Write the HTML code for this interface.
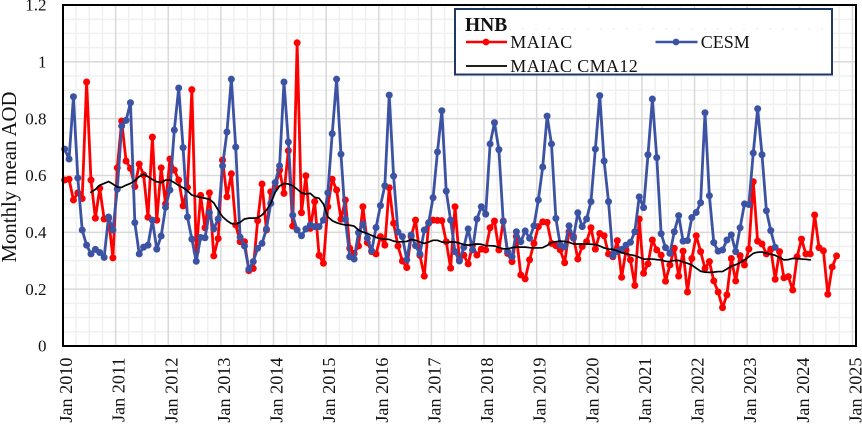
<!DOCTYPE html>
<html lang="en">
<head>
<meta charset="utf-8">
<title>Monthly mean AOD HNB</title>
<style>
html,body{margin:0;padding:0;background:#fff;}
#chart{display:block;width:862px;height:425px;}
text{font-family:"Liberation Serif",serif;fill:#111;}
</style>
</head>
<body>
<svg id="chart" xmlns="http://www.w3.org/2000/svg" width="862" height="425" viewBox="0 0 862 425"></svg>
<script>
const xTickLabels = ["Jan 2010","Jan 2011","Jan 2012","Jan 2013","Jan 2014","Jan 2015","Jan 2016","Jan 2017","Jan 2018","Jan 2019","Jan 2020","Jan 2021","Jan 2022","Jan 2023","Jan 2024","Jan 2025"];
const yTickValues = [0,0.2,0.4,0.6,0.8,1,1.2];
const maiacValues = [
.584,.587,.514,.539,.519,.929,.584,.450,.555,.447,.449,.310,
.627,.792,.651,.625,.561,.640,.602,.453,.735,.443,.627,.500,
.658,.619,.584,.493,.558,.902,.332,.530,.416,.539,.317,.378,
.654,.525,.606,.426,.367,.367,.265,.273,.441,.570,.408,.543,
.560,.619,.537,.687,.422,1.067,.469,.599,.414,.508,.319,.291,
.490,.587,.549,.446,.514,.344,.326,.352,.490,.364,.332,.324,
.385,.355,.557,.432,.352,.299,.276,.385,.443,.319,.246,.432,
.443,.442,.441,.367,.274,.490,.303,.320,.289,.355,.320,.341,
.338,.416,.440,.338,.440,.326,.297,.385,.250,.236,.303,.361,
.420,.437,.435,.361,.353,.338,.293,.402,.385,.306,.350,.367,
.416,.341,.396,.388,.324,.314,.371,.242,.338,.303,.213,.447,
.256,.289,.373,.338,.320,.228,.285,.344,.246,.334,.190,.308,
.388,.332,.273,.297,.229,.190,.135,.180,.308,.229,.318,.285,
.341,.578,.369,.359,.324,.341,.235,.332,.240,.244,.197,.314,
.376,.324,.324,.461,.346,.335,.182,.278,.317
];
const cesmValues = [
.693,.658,.877,.591,.408,.355,.324,.340,.329,.312,.454,.408,
.552,.774,.794,.856,.434,.324,.348,.355,.443,.341,.387,.488,
.549,.760,.908,.698,.454,.376,.298,.382,.381,.470,.412,.447,
.634,.753,.939,.700,.383,.352,.270,.297,.344,.361,.412,.502,
.575,.634,.929,.718,.460,.408,.388,.412,.426,.420,.420,.443,
.539,.747,.939,.675,.446,.314,.306,.399,.429,.379,.335,.417,
.494,.564,.883,.598,.401,.385,.303,.391,.353,.324,.408,.434,
.522,.683,.828,.545,.443,.332,.299,.347,.412,.338,.447,.490,
.464,.711,.786,.691,.438,.332,.314,.402,.367,.405,.379,.423,
.514,.630,.809,.711,.449,.355,.349,.423,.379,.469,.420,.447,
.508,.693,.881,.651,.508,.317,.332,.340,.355,.365,.402,.525,
.487,.673,.869,.663,.395,.346,.326,.402,.459,.369,.371,.452,
.470,.504,.821,.529,.364,.334,.338,.373,.391,.332,.416,.500,
.498,.679,.835,.673,.476,.406,.347
];
const cma12Values = [
null,null,null,null,null,null,
.541,.551,.566,.572,.579,.570,.559,.558,.566,.572,.582,.596,.605,.596,.586,.578,.575,.584,
.584,.575,.565,.557,.546,.531,.527,.523,.520,.516,.504,.478,.455,.441,.431,.429,.435,.447,
.450,.450,.451,.461,.478,.502,.541,.563,.572,.570,.564,.552,.539,.535,.537,.523,.520,.500,
.455,.441,.434,.429,.426,.425,.422,.408,.401,.396,.389,.382,.378,.376,.375,.369,.366,.367,
.368,.375,.372,.366,.361,.366,.372,.372,.366,.364,.366,.366,.362,.357,.355,.357,.359,.358,
.353,.353,.352,.347,.342,.342,.346,.348,.348,.348,.346,.345,.345,.346,.354,.364,.367,.369,
.368,.365,.359,.359,.359,.359,.358,.357,.352,.345,.341,.340,.335,.328,.325,.321,.318,.312,
.306,.306,.306,.304,.303,.298,.297,.301,.301,.296,.291,.285,.274,.263,.260,.259,.260,.262,
.262,.271,.281,.286,.293,.303,.314,.326,.330,.331,.326,.323,.319,.311,.303,.304,.308,.308,
.306,.305,.303
];
const seriesNames = ["MAIAC","CESM","MAIAC CMA12"];

const svgNS = "http://www.w3.org/2000/svg";
const svg = document.getElementById("chart");
const plotLeft = 63, plotRight = 856, plotTop = 5, plotBottom = 346;
const yearWidth = 52.63;
const firstPointOffset = 1.67;
function xMonth(i){ return plotLeft + firstPointOffset + i * yearWidth / 12; }
function xGrid(m){ return plotLeft + m * yearWidth / 12; }
function yVal(v){ return plotBottom - v * (plotBottom - plotTop) / 1.2; }
function make(tag, attrs, parent){
  const el = document.createElementNS(svgNS, tag);
  for (const k in attrs) el.setAttribute(k, attrs[k]);
  (parent || svg).appendChild(el);
  return el;
}
function pathFrom(values){
  let d = "", pen = false;
  values.forEach(function(v, i){
    if (v === null) { pen = false; return; }
    d += (pen ? "L" : "M") + xMonth(i).toFixed(2) + " " + yVal(v).toFixed(2);
    pen = true;
  });
  return d;
}

/* gridlines */
const grid = make("g", {});


for (let m = 3; xGrid(m) < plotRight; m += 3) {
  if (m % 12 === 0) continue;
  const l = make("line", {x1:xGrid(m), x2:xGrid(m), y1:plotTop, y2:plotBottom, stroke:"#f0f0f0", "stroke-width":1.5}, grid);
  
  
}
for (let k = 1; k < 24; k++) {
  if (k % 4 === 0) continue;
  const yy = yVal(k * 0.05);
  const l = make("line", {x1:plotLeft, x2:plotRight, y1:yy, y2:yy, stroke:"#f0f0f0", "stroke-width":1.5}, grid);
  
  
}
xTickLabels.forEach(function(lbl, i){
  if (i === 0) return;
  const xx = xGrid(i * 12);
  const l = make("line", {x1:xx, x2:xx, y1:plotTop, y2:plotBottom, stroke:"#d9d9d9", "stroke-width":1.5}, grid);
  
  
});
yTickValues.forEach(function(v){
  if (v === 0 || v === 1.2) return;
  const l = make("line", {x1:plotLeft, x2:plotRight, y1:yVal(v), y2:yVal(v), stroke:"#d9d9d9", "stroke-width":1.5}, grid);
  
  
});

/* series */
function drawSeries(values, color, name, withMarkers, width){
  const g = make("g", {});
  
  
  const line = make("path", {d:pathFrom(values), fill:"none", stroke:color, "stroke-width":width, "stroke-linejoin":"round", "stroke-linecap":"round"}, g);
  
  
  if (withMarkers) {
    values.forEach(function(v, i){
      if (v === null) return;
      const c = make("circle", {cx:xMonth(i), cy:yVal(v), r:3.5, fill:color}, g);
      
      
    });
  }
}
drawSeries(maiacValues, "#ff0000", "maiac", true, 2.8);
drawSeries(cesmValues, "#3c53a4", "cesm", true, 2.8);
drawSeries(cma12Values, "#000000", "maiac-cma12", false, 1.7);

/* plot frame */
const frame = make("rect", {x:plotLeft, y:plotTop, width:plotRight-plotLeft, height:plotBottom-plotTop, fill:"none", stroke:"#000", "stroke-width":2});



/* y tick labels */
yTickValues.forEach(function(v){
  const t = make("text", {x:46.5, y:yVal(v)+5.7, "text-anchor":"end", "font-size":17});
  t.textContent = String(v);
  
  
});

/* x tick labels */
xTickLabels.forEach(function(lbl, i){
  const xx = xGrid(i * 12) + 9;
  const t = make("text", {transform:"translate(" + xx + ",357.5) rotate(-90)", "text-anchor":"end", "font-size":18.2});
  t.textContent = lbl;
  
  
});

/* y title */
const yTitle = make("text", {transform:"translate(16,177) rotate(-90)", "text-anchor":"middle", "font-size":20.8});
yTitle.textContent = "Monthly mean AOD";



/* legend */
const legend = make("g", {});


const legendBox = make("rect", {x:455, y:9, width:377, height:65.5, fill:"#fff", stroke:"#1f3864", "stroke-width":2}, legend);


const legendTrace = make("line", {x1:457, x2:830, y1:29, y2:29, stroke:"#e8e8e8", "stroke-width":1, "stroke-dasharray":"2 11"}, legend);


const legendTitle = make("text", {x:465, y:31, "font-size":19.5, "font-weight":"bold"}, legend);
legendTitle.textContent = "HNB";



const maiacKey = make("line", {x1:466, x2:507, y1:42, y2:42, stroke:"#ff0000", "stroke-width":2.6}, legend);


const maiacDot = make("circle", {cx:486, cy:42, r:3.4, fill:"#ff0000"}, legend);


const maiacText = make("text", {x:510.3, y:48, "font-size":18, "letter-spacing":0.5, style:"font-kerning:none"}, legend);
maiacText.textContent = seriesNames[0];



const cesmKey = make("line", {x1:655.5, x2:697.5, y1:42, y2:42, stroke:"#3c53a4", "stroke-width":2.6}, legend);


const cesmDot = make("circle", {cx:676, cy:42, r:3.4, fill:"#3c53a4"}, legend);


const cesmText = make("text", {x:700.7, y:48, "font-size":18}, legend);
cesmText.textContent = seriesNames[1];



const cmaKey = make("line", {x1:466, x2:507, y1:66, y2:66, stroke:"#000", "stroke-width":1.7}, legend);


const cmaText = make("text", {x:510.3, y:72, "font-size":18, "letter-spacing":0.4, style:"font-kerning:none"}, legend);
cmaText.textContent = seriesNames[2];


</script>
</body>
</html>
